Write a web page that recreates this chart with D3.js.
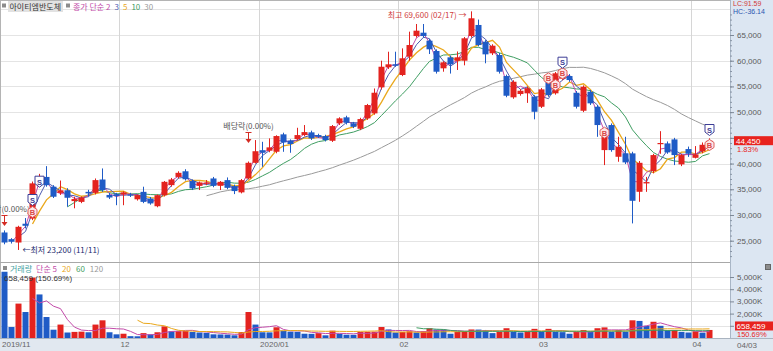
<!DOCTYPE html>
<html>
<head>
<meta charset="utf-8">
<script src="https://cdn.jsdelivr.net/npm/d3@7"></script>
<style>
    body { margin: 0; background: #fff; }
    svg { display: block; font-family: "Liberation Sans", Arial, sans-serif; }
    .kr { font-family: "Noto Sans CJK KR", sans-serif; }
</style>
</head>
<body>
<div id="chart"></div>
<script>
// trading days shown, 2019/11/07 .. 2020/04/03
const dates = [
    "2019/11/07","2019/11/08","2019/11/11","2019/11/12","2019/11/13","2019/11/14","2019/11/15","2019/11/18","2019/11/19","2019/11/20",
    "2019/11/21","2019/11/22","2019/11/25","2019/11/26","2019/11/27","2019/11/28","2019/11/29",
    "2019/12/02","2019/12/03","2019/12/04","2019/12/05","2019/12/06","2019/12/09","2019/12/10","2019/12/11","2019/12/12","2019/12/13",
    "2019/12/16","2019/12/17","2019/12/18","2019/12/19","2019/12/20","2019/12/23","2019/12/24","2019/12/26","2019/12/27","2019/12/30",
    "2020/01/02","2020/01/03","2020/01/06","2020/01/07","2020/01/08","2020/01/09","2020/01/10","2020/01/13","2020/01/14","2020/01/15",
    "2020/01/16","2020/01/17","2020/01/20","2020/01/21","2020/01/22","2020/01/23","2020/01/28","2020/01/29","2020/01/30","2020/01/31",
    "2020/02/03","2020/02/04","2020/02/05","2020/02/06","2020/02/07","2020/02/10","2020/02/11","2020/02/12","2020/02/13","2020/02/14",
    "2020/02/17","2020/02/18","2020/02/19","2020/02/20","2020/02/21","2020/02/24","2020/02/25","2020/02/26","2020/02/27","2020/02/28",
    "2020/03/02","2020/03/03","2020/03/04","2020/03/05","2020/03/06","2020/03/09","2020/03/10","2020/03/11","2020/03/12","2020/03/13",
    "2020/03/16","2020/03/17","2020/03/18","2020/03/19","2020/03/20","2020/03/23","2020/03/24","2020/03/25","2020/03/26","2020/03/27",
    "2020/03/30","2020/03/31","2020/04/01","2020/04/02","2020/04/03"
];

const opens = [
    26600,25300,24650,28300,29300,36000,37400,35500,34300,34800, 32700,32550,34500,34300,36900,33900,34050,34000,34000,33050,
    34500,33200,31700,33850,35800,37400,38500,36600,35670,36150, 37100,35670,36780,35600,34400,37100,40150,42600,42500,42300,
    45680,44430,44760,45540,46070,45540,45350,44430,47820,48990, 47820,46770,48790,49760,54820,58710,59300,57220,60780,64800,
    65450,63890,61890,58520,60660,60000,60000,64800,66950,63700, 61440,61110,57020,52880,53520,53660,52990,51050,55910,53660,
    56500,57020,53770,50270,53970,51050,42620,47490,41320,42000, 41980,34510,36140,38530,43800,43920,44700,39840,42820,41120,
    42370,43650
];
const highs = [
    27000,25500,27900,29400,36500,38000,39500,35800,36700,35200, 33550,33600,34900,37100,39050,34300,34300,34600,34300,34000,
    35500,33500,34000,36600,37200,38500,38900,36900,36500,36800, 37400,36600,37300,35900,37000,40400,44570,44230,44900,45500,
    46000,44700,46960,47490,46400,45800,45600,47500,49000,49300, 48100,48900,51600,54600,60000,61750,61750,62400,65650,67140,
    67140,64200,62200,59900,61000,61800,64600,69600,68000,64000, 63200,61500,57300,56200,54500,55000,53300,54700,56500,57800,
    58200,57400,54100,55200,54300,51400,45500,47800,45210,45210, 42300,40500,37400,41900,46300,44300,45000,41900,43300,43400,
    44100,44900
];
const lows = [
    24300,24450,23200,27400,29000,35500,35500,33300,33900,31600, 31300,32300,33600,34000,34500,33100,31900,31900,33500,32800,
    32300,32000,31500,33600,35500,37100,36700,34850,34850,35800, 35400,34850,35000,34060,34200,36900,40000,39370,42200,42000,
    42290,42100,44500,45300,44600,45000,44300,44200,47500,47600, 46900,46500,48500,49500,54400,58400,58800,57000,60000,64500,
    64500,61300,57500,57860,57500,58200,59100,64500,62800,59500, 61100,57500,52900,52600,53200,51800,48600,50800,53000,53400,
    56200,55900,50700,50000,51400,45200,39700,42300,40350,39900, 28360,32560,34500,38100,41900,41900,39700,39500,41300,41000,
    42000,43300
];
const closes = [
    24650,24800,27700,27900,36150,37200,35800,33550,34800,33350, 33100,33400,34200,36780,34850,33400,33700,34400,33750,33850,
    32550,32250,33850,36450,36900,38200,36950,35170,36330,36300, 35670,36450,35280,34650,36780,40150,42400,42100,43150,45350,
    44120,43800,45540,46120,44900,45200,44570,47290,48790,47930, 47150,48650,51380,53770,58830,59300,59020,60470,63050,65840,
    64800,62220,57860,59690,59300,60660,64360,68250,63050,61240, 62920,57860,53190,55910,54160,54630,50070,54430,53320,57550,
    57800,56240,51050,54940,51710,47490,45210,42620,43260,40230, 32760,40150,36400,41650,44000,42170,41650,41650,41900,41780,
    43650,44450
];
const volumes = [
    5430000,900000,2820000,2130000,4950000,3570000,1720000,680000,1100000,450000,
    500000,520000,470000,1100000,1450000,470000,300000,350000,150000,140000,
    400000,300000,470000,950000,550000,560000,570000,490000,450000,420000,
    300000,290000,280000,220000,490000,2130000,1100000,470000,460000,880000,
    600000,520000,510000,350000,340000,400000,220000,600000,350000,270000,
    260000,500000,510000,520000,900000,700000,450000,500000,550000,450000,
    550000,800000,700000,690000,350000,500000,550000,700000,690000,650000,
    400000,500000,800000,500000,450000,500000,750000,500000,750000,500000,
    480000,350000,500000,650000,500000,800000,870000,500000,650000,500000,
    1450000,1400000,1000000,1330000,1000000,640000,660000,500000,450000,550000,
    436963,658459
];

const monthTicks = ["2019/11/07","2019/12/02","2020/01/02","2020/02/03","2020/03/02","2020/04/01"];
const monthLabels = ["2019/11","12","2020/01","02","03","04"];

const priceTicks = [25000,30000,35000,40000,45000,50000,55000,60000,65000];
const volumeTicks = [1000000,2000000,3000000,4000000,5000000];

const maPeriods = [2, 3, 5, 10, 30];
const maColors = ["#c24aa9", "#4d5bb0", "#eaa81c", "#3f9e62", "#9a9a9a"];
const volMaPeriods = [5, 20, 60, 120];
const volMaColors = ["#c24aa9", "#eaa81c", "#3f9e62", "#9a9a9a"];

const signals = [
    {date: "2019/11/13", type: "S", price: 32914},
    {date: "2019/11/13", type: "B", price: 30581},
    {date: "2019/11/14", type: "S", price: 36473},
    {date: "2020/03/03", type: "B", price: 56580},
    {date: "2020/03/04", type: "B", price: 55277},
    {date: "2020/03/05", type: "B", price: 57552},
    {date: "2020/03/05", type: "S", price: 59614},
    {date: "2020/03/13", type: "B", price: 46001},
    {date: "2020/04/03", type: "S", price: 46526},
    {date: "2020/04/03", type: "B", price: 43610}
];

const events = [
    {date: "2019/11/07", label: "배당락(0.00%)", price: 27860},
    {date: "2019/12/27", label: "배당락(0.00%)", price: 44000}
];

const RED = "#e3231f";
const BLUE = "#1f5bc6";

class StockChart {
    constructor(parentElement) {
        this.parentElement = parentElement;
        this.initVis();
    }

    initVis() {
        let vis = this;

        vis.width = 773;
        vis.height = 351;
        vis.plotRight = 730;
        vis.priceTop = 1;
        vis.priceBottom = 262;
        vis.volTop = 263;
        vis.volBottom = 338;

        vis.svg = d3.select("#" + vis.parentElement).append("svg")
            .attr("width", vis.width)
            .attr("height", vis.height);

        vis.data = dates.map((d, i) => ({
            date: d, open: opens[i], high: highs[i], low: lows[i], close: closes[i], volume: volumes[i]
        }));

        vis.x = d3.scaleBand().domain(dates).range([0.5, 712]).paddingInner(0);
        vis.y = d3.scaleLinear().domain([25000, 65000]).range([240.7, 35]);
        vis.yVol = d3.scaleLinear().domain([0, 5000000]).range([vis.volBottom, 277]);

        vis.cx = d => Math.round(vis.x(d) + vis.x.bandwidth() / 2) + 0.5;

        let defs = vis.svg.append("defs");
        defs.append("clipPath").attr("id", "clip-price").append("rect")
            .attr("x", 0).attr("y", vis.priceTop).attr("width", vis.plotRight).attr("height", vis.priceBottom - vis.priceTop);
        defs.append("clipPath").attr("id", "clip-vol").append("rect")
            .attr("x", 0).attr("y", vis.volTop).attr("width", vis.plotRight).attr("height", vis.volBottom - vis.volTop);

        // axis backgrounds
        vis.svg.append("rect").attr("x", vis.plotRight).attr("y", 0).attr("width", vis.width - vis.plotRight)
            .attr("height", vis.volBottom).attr("fill", "#dce6f2");
        vis.svg.append("rect").attr("x", 0).attr("y", vis.volBottom).attr("width", vis.width)
            .attr("height", vis.height - vis.volBottom).attr("fill", "#e1e8f0");

        vis.drawGrid();
        vis.drawAxes();
        vis.drawPrice();
        vis.drawVolume();
        vis.drawLabels();
    }

    drawGrid() {
        let vis = this;
        let grid = vis.svg.append("g");

        grid.selectAll(".hgrid")
            .data(priceTicks.concat([70000]))
            .enter().append("line")
            .attr("x1", 0).attr("x2", vis.plotRight)
            .attr("y1", d => Math.round(vis.y(d)) + 0.5).attr("y2", d => Math.round(vis.y(d)) + 0.5)
            .attr("stroke", "#e4e4e4");

        grid.selectAll(".vgrid")
            .data(volumeTicks)
            .enter().append("line")
            .attr("x1", 0).attr("x2", vis.plotRight)
            .attr("y1", d => Math.round(vis.yVol(d)) + 0.5).attr("y2", d => Math.round(vis.yVol(d)) + 0.5)
            .attr("stroke", "#e4e4e4");

        grid.selectAll(".mgrid")
            .data(monthTicks.slice(1))
            .enter().append("line")
            .attr("x1", d => Math.round(vis.x(d)) + 0.5).attr("x2", d => Math.round(vis.x(d)) + 0.5)
            .attr("y1", 0).attr("y2", vis.volBottom)
            .attr("stroke", "#d6d6d6");

        // borders
        grid.append("line").attr("x1", 0).attr("x2", vis.plotRight).attr("y1", 0.5).attr("y2", 0.5).attr("stroke", "#b4b4b4");
        grid.append("line").attr("x1", 0.5).attr("x2", 0.5).attr("y1", 0).attr("y2", vis.volBottom).attr("stroke", "#b4b4b4");
        grid.append("line").attr("x1", 0).attr("x2", vis.plotRight).attr("y1", vis.priceBottom + 0.5).attr("y2", vis.priceBottom + 0.5).attr("stroke", "#a8a8a8");
        grid.append("line").attr("x1", vis.plotRight + 0.5).attr("x2", vis.plotRight + 0.5).attr("y1", 0).attr("y2", vis.volBottom).attr("stroke", "#a9b6c6");
        grid.append("line").attr("x1", 0).attr("x2", vis.width).attr("y1", vis.volBottom + 0.5).attr("y2", vis.volBottom + 0.5).attr("stroke", "#aab4c0");
    }

    drawAxes() {
        let vis = this;
        let last = closes.length - 1;

        let minor = vis.svg.append("g").attr("transform", `translate(${vis.plotRight},0)`)
            .call(d3.axisRight(vis.y).tickValues(d3.range(22000, 70000, 1000)).tickSize(2).tickFormat(""));
        minor.select(".domain").remove();
        minor.selectAll("line").attr("stroke", "#8a96a6");

        // the label nearest the last price sits under the price tag
        let hidden = priceTicks.reduce((a, b) => Math.abs(b - closes[last]) < Math.abs(a - closes[last]) ? b : a);
        let py = vis.svg.append("g").attr("transform", `translate(${vis.plotRight},0)`)
            .call(d3.axisRight(vis.y).tickValues(priceTicks).tickSize(4).tickPadding(3)
                .tickFormat(d => d === hidden ? "" : d3.format(",")(d)));
        py.select(".domain").remove();
        py.selectAll("line").attr("stroke", "#7d8896");
        py.selectAll("text").attr("fill", "#5a5a5a").style("font-size", "8px");

        let vy = vis.svg.append("g").attr("transform", `translate(${vis.plotRight},0)`)
            .call(d3.axisRight(vis.yVol).tickValues(volumeTicks).tickSize(4).tickPadding(3)
                .tickFormat(d => d === volumeTicks[0] ? "" : d3.format(",")(d / 1000) + "K"));
        vy.select(".domain").remove();
        vy.selectAll("line").attr("stroke", "#7d8896");
        vy.selectAll("text").attr("fill", "#5a5a5a").style("font-size", "8px");

        let xa = vis.svg.append("g").attr("transform", `translate(0,${vis.volBottom})`)
            .call(d3.axisBottom(vis.x).tickValues(monthTicks).tickSize(0).tickFormat((d, i) => monthLabels[i]));
        xa.select(".domain").remove();
        xa.selectAll("text")
            .attr("text-anchor", "start")
            .attr("x", -vis.x.bandwidth() / 2 + 1.5)
            .attr("y", 3)
            .attr("fill", "#666")
            .style("font-size", "8px");

        vis.svg.append("text")
            .attr("x", 737).attr("y", 348)
            .attr("fill", "#666").style("font-size", "8px")
            .text(dates[last].slice(5));
    }

    drawPrice() {
        let vis = this;
        let g = vis.svg.append("g").attr("clip-path", "url(#clip-price)");

        // moving averages of the close
        let sma = (arr, n) => arr.map((d, i) => i < n - 1 ? null : d3.mean(arr.slice(i - n + 1, i + 1)));
        let line = d3.line()
            .defined(d => d.v !== null)
            .x(d => vis.cx(d.date))
            .y(d => vis.y(d.v));

        maPeriods.slice().reverse().forEach((n, k) => {
            let idx = maPeriods.length - 1 - k;
            let ma = sma(closes, n).map((v, i) => ({date: dates[i], v: v}));
            g.append("path")
                .attr("d", line(ma))
                .attr("fill", "none")
                .attr("stroke", maColors[idx])
                .attr("stroke-width", n === 5 ? 1.3 : 1);
        });

        let candles = g.selectAll(".candle")
            .data(vis.data)
            .enter().append("g")
            .attr("class", "candle");

        candles.append("line")
            .attr("x1", d => vis.cx(d.date)).attr("x2", d => vis.cx(d.date))
            .attr("y1", d => vis.y(d.high)).attr("y2", d => vis.y(d.low))
            .attr("stroke", d => d.close >= d.open ? RED : BLUE);

        candles.append("rect")
            .attr("x", d => vis.cx(d.date) - 3)
            .attr("y", d => vis.y(Math.max(d.open, d.close)))
            .attr("width", 6)
            .attr("height", d => Math.max(1.2, vis.y(Math.min(d.open, d.close)) - vis.y(Math.max(d.open, d.close))))
            .attr("fill", d => d.close >= d.open ? RED : BLUE);

        // event markers
        events.forEach(e => {
            let ex = vis.cx(e.date), ey = vis.y(e.price);
            g.append("line").attr("x1", ex).attr("x2", ex).attr("y1", ey - 10).attr("y2", ey - 3)
                .attr("stroke", "#d42a22").attr("stroke-width", 1);
            g.append("path").attr("d", `M${ex - 3},${ey - 4}L${ex + 3},${ey - 4}L${ex},${ey}Z`).attr("fill", "#d42a22");
            g.append("line").attr("x1", ex - 3).attr("x2", ex + 3).attr("y1", ey - 10.5).attr("y2", ey - 10.5)
                .attr("stroke", "#d42a22");
            g.append("text").attr("class", "kr")
                .attr("x", ex).attr("y", ey - 14)
                .attr("text-anchor", "middle")
                .attr("fill", "#555").style("font-size", "8px")
                .text(e.label);
        });

        // buy / sell signals
        signals.forEach(s => {
            let sx = vis.cx(s.date), sy = vis.y(s.price);
            let path = s.type === "S"
                ? `M${sx - 4.5},${sy - 5.5}L${sx + 4.5},${sy - 5.5}L${sx + 4.5},${sy + 2}L${sx},${sy + 5.5}L${sx - 4.5},${sy + 2}Z`
                : `M${sx},${sy - 5.5}L${sx + 4.5},${sy - 2.5}L${sx + 4.5},${sy + 2.5}L${sx},${sy + 5.5}L${sx - 4.5},${sy + 2.5}L${sx - 4.5},${sy - 2.5}Z`;
            g.append("path").attr("d", path)
                .attr("fill", s.type === "S" ? "#fff" : "#fde6e6")
                .attr("stroke", s.type === "S" ? "#3d3d96" : "#e0605e")
                .attr("stroke-width", 1);
            g.append("text")
                .attr("x", sx).attr("y", sy + 2.8)
                .attr("text-anchor", "middle")
                .attr("fill", s.type === "S" ? "#3d3d96" : "#d84848")
                .style("font-size", "7.5px").style("font-weight", "bold")
                .text(s.type);
        });

        // high / low annotations
        let hiIdx = d3.maxIndex(highs), loIdx = d3.minIndex(lows);
        let fmt = d3.format(",");
        g.append("text").attr("class", "kr")
            .attr("x", vis.cx(dates[hiIdx]) - 5).attr("y", vis.y(highs[hiIdx]) + 6.5)
            .attr("text-anchor", "end")
            .attr("fill", "#cf3b3b").style("font-size", "8px")
            .text(`최고 ${fmt(highs[hiIdx])} (${dates[hiIdx].slice(5)}) →`);
        g.append("text").attr("class", "kr")
            .attr("x", vis.cx(dates[loIdx]) + 4).attr("y", vis.y(lows[loIdx]) + 3)
            .attr("fill", "#1c2b6e").style("font-size", "8px")
            .text(`←최저 ${fmt(lows[loIdx])} (${dates[loIdx].slice(5)})`);
    }

    drawVolume() {
        let vis = this;
        let g = vis.svg.append("g").attr("clip-path", "url(#clip-vol)");

        g.selectAll(".vbar")
            .data(vis.data)
            .enter().append("rect")
            .attr("class", "vbar")
            .attr("x", d => vis.cx(d.date) - 3)
            .attr("y", d => vis.yVol(d.volume))
            .attr("width", 6)
            .attr("height", d => vis.volBottom - vis.yVol(d.volume))
            .attr("fill", (d, i) => i > 0 && d.volume > volumes[i - 1] ? RED : BLUE);

        let sma = (arr, n) => arr.map((d, i) => i < n - 1 ? null : d3.mean(arr.slice(i - n + 1, i + 1)));
        let line = d3.line()
            .defined(d => d.v !== null)
            .x(d => vis.cx(d.date))
            .y(d => vis.yVol(d.v));

        volMaPeriods.forEach((n, k) => {
            let ma = sma(volumes, n).map((v, i) => ({date: dates[i], v: v}));
            g.append("path")
                .attr("d", line(ma))
                .attr("fill", "none")
                .attr("stroke", volMaColors[k])
                .attr("stroke-width", 1);
        });
    }

    drawLabels() {
        let vis = this;
        let last = closes.length - 1;
        let fmt = d3.format(",");

        // price legend
        vis.svg.append("rect").attr("x", 2).attr("y", 3.5).attr("width", 4).attr("height", 4).attr("fill", "#8c8c8c");
        vis.svg.append("rect").attr("x", 8).attr("y", 1).attr("width", 55).attr("height", 11).attr("fill", "#e2e2e2");
        vis.svg.append("text").attr("class", "kr").attr("x", 9.5).attr("y", 9.8)
            .attr("fill", "#333").style("font-size", "8px").text("아이티엠반도체");
        vis.svg.append("rect").attr("x", 66).attr("y", 3.5).attr("width", 4).attr("height", 4).attr("fill", "#8c8c8c");

        let leg = vis.svg.append("text").attr("class", "kr").attr("x", 73).attr("y", 9.8).style("font-size", "8px");
        leg.append("tspan").attr("fill", maColors[0]).text("종가 단순 " + maPeriods[0]);
        maPeriods.slice(1).forEach((n, k) => {
            leg.append("tspan").attr("dx", 4).attr("fill", maColors[k + 1]).text(n);
        });

        // volume legend
        vis.svg.append("rect").attr("x", 3).attr("y", 266).attr("width", 4).attr("height", 4).attr("fill", "#8c8c8c");
        let vleg = vis.svg.append("text").attr("class", "kr").attr("x", 10).attr("y", 272).style("font-size", "8px");
        vleg.append("tspan").attr("fill", "#3f9f9f").text("거래량");
        vleg.append("tspan").attr("dx", 4).attr("fill", volMaColors[0]).text("단순 " + volMaPeriods[0]);
        volMaPeriods.slice(1).forEach((n, k) => {
            vleg.append("tspan").attr("dx", 5).attr("fill", volMaColors[k + 1]).text(n);
        });
        let volRatio = volumes[last] / volumes[last - 1] * 100;
        vis.svg.append("text").attr("x", 4).attr("y", 281)
            .attr("fill", "#333").style("font-size", "8px")
            .text(`${fmt(volumes[last])} (${volRatio.toFixed(2)}%)`);

        // LC / HC
        let lc = (closes[last] / d3.min(lows) - 1) * 100;
        let hc = (closes[last] / d3.max(highs) - 1) * 100;
        vis.svg.append("text").attr("x", 733).attr("y", 6).attr("fill", "#d23a3a").style("font-size", "7px")
            .text("LC:" + lc.toFixed(2));
        vis.svg.append("text").attr("x", 733).attr("y", 13.5).attr("fill", "#2a55b0").style("font-size", "7px")
            .text("HC:" + hc.toFixed(2));

        // current price tag
        let cy = vis.y(closes[last]);
        let chg = (closes[last] / closes[last - 1] - 1) * 100;
        vis.svg.append("rect").attr("x", 734).attr("y", cy - 4.5).attr("width", 39).attr("height", 9).attr("fill", "#e8231e");
        vis.svg.append("text").attr("x", 736).attr("y", cy + 3).attr("fill", "#fff").style("font-size", "8px")
            .text(fmt(closes[last]));
        vis.svg.append("text").attr("x", 737).attr("y", cy + 11.5).attr("fill", "#e8231e").style("font-size", "7.5px")
            .text(chg.toFixed(2) + "%");

        // current volume tag
        let vy = vis.yVol(volumes[last]) - 4;
        vis.svg.append("rect").attr("x", 735).attr("y", vy - 4.5).attr("width", 38).attr("height", 9).attr("fill", "#e8231e");
        vis.svg.append("text").attr("x", 736.5).attr("y", vy + 3).attr("fill", "#fff").style("font-size", "8px")
            .text(fmt(volumes[last]));
        vis.svg.append("text").attr("x", 737).attr("y", vy + 11.5).attr("fill", "#e8231e").style("font-size", "7.5px")
            .text(volRatio.toFixed(2) + "%");

        vis.svg.append("rect").attr("x", 765.5).attr("y", 264.5).attr("width", 5).attr("height", 5)
            .attr("fill", "#8c8c8c").attr("stroke", "#666");
    }
}

new StockChart("chart");
</script>
</body>
</html>
